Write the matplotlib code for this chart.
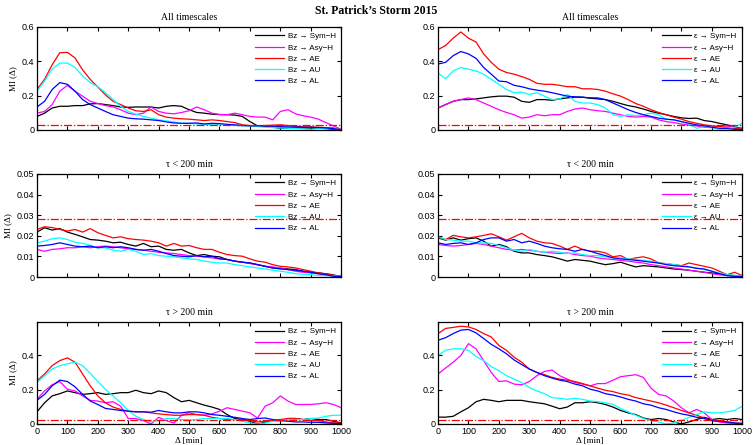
import matplotlib
matplotlib.use('Agg')
from matplotlib import pyplot as plt

# time lag axis, minutes
lag = list(range(0, 1001, 25))

indices = ['Sym\u2212H', 'Asy\u2212H', 'AE', 'AU', 'AL']
colors = ['#000000', '#ff00ff', '#ff0000', '#00ffff', '#0000ff']

# ---- Bz, all timescales
bz_all_symh = [0.079, 0.098, 0.128, 0.138, 0.138, 0.142, 0.142, 0.152, 0.154, 0.148, 0.142, 0.134, 0.132, 0.134,
               0.134, 0.134, 0.128, 0.138, 0.142, 0.138, 0.118, 0.102, 0.098, 0.092, 0.090, 0.089, 0.087, 0.079,
               0.049, 0.024, 0.020, 0.016, 0.010, 0.010, 0.012, 0.012, 0.010, 0.010, 0.008, 0.004, 0.0]
bz_all_asyh = [0.098, 0.108, 0.148, 0.226, 0.260, 0.226, 0.197, 0.167, 0.154, 0.142, 0.134, 0.118, 0.098, 0.089,
               0.098, 0.134, 0.108, 0.098, 0.094, 0.102, 0.112, 0.134, 0.118, 0.098, 0.090, 0.089, 0.098, 0.089,
               0.079, 0.075, 0.075, 0.059, 0.108, 0.118, 0.094, 0.083, 0.075, 0.063, 0.043, 0.024, 0.004]
bz_all_ae = [0.236, 0.295, 0.380, 0.450, 0.452, 0.420, 0.350, 0.295, 0.250, 0.205, 0.167, 0.148, 0.128, 0.112,
             0.108, 0.118, 0.089, 0.075, 0.069, 0.065, 0.063, 0.059, 0.055, 0.059, 0.055, 0.049, 0.043, 0.030,
             0.026, 0.024, 0.026, 0.028, 0.030, 0.026, 0.022, 0.018, 0.018, 0.016, 0.014, 0.012, 0.0]
bz_all_au = [0.226, 0.285, 0.354, 0.390, 0.390, 0.364, 0.315, 0.276, 0.252, 0.217, 0.177, 0.138, 0.108, 0.092,
             0.079, 0.069, 0.059, 0.053, 0.047, 0.039, 0.039, 0.035, 0.033, 0.031, 0.030, 0.028, 0.026, 0.024,
             0.024, 0.020, 0.016, 0.014, 0.012, 0.010, 0.008, 0.006, 0.004, 0.008, 0.010, 0.008, 0.0]
bz_all_al = [0.134, 0.167, 0.236, 0.276, 0.266, 0.226, 0.177, 0.148, 0.128, 0.108, 0.089, 0.079, 0.069, 0.065,
             0.063, 0.059, 0.055, 0.047, 0.041, 0.039, 0.039, 0.041, 0.035, 0.039, 0.037, 0.033, 0.030, 0.026,
             0.024, 0.024, 0.024, 0.022, 0.020, 0.018, 0.018, 0.016, 0.016, 0.014, 0.012, 0.008, 0.0]

# ---- epsilon, all timescales
ep_all_symh = [0.128, 0.148, 0.167, 0.177, 0.177, 0.181, 0.187, 0.193, 0.197, 0.197, 0.191, 0.167, 0.161, 0.177,
               0.177, 0.173, 0.181, 0.187, 0.191, 0.191, 0.185, 0.181, 0.177, 0.167, 0.154, 0.142, 0.134, 0.122,
               0.108, 0.098, 0.089, 0.079, 0.071, 0.067, 0.069, 0.055, 0.049, 0.039, 0.030, 0.020, 0.008]
ep_all_asyh = [0.128, 0.148, 0.167, 0.177, 0.187, 0.177, 0.157, 0.138, 0.118, 0.102, 0.089, 0.069, 0.075, 0.089,
               0.083, 0.089, 0.089, 0.108, 0.122, 0.128, 0.118, 0.112, 0.108, 0.098, 0.089, 0.079, 0.075, 0.079,
               0.075, 0.059, 0.049, 0.043, 0.035, 0.028, 0.024, 0.016, 0.014, 0.024, 0.024, 0.014, 0.010]
ep_all_ae = [0.468, 0.492, 0.535, 0.571, 0.535, 0.512, 0.443, 0.394, 0.354, 0.335, 0.325, 0.311, 0.295, 0.272,
             0.266, 0.266, 0.260, 0.252, 0.252, 0.240, 0.240, 0.236, 0.226, 0.211, 0.197, 0.177, 0.154, 0.138,
             0.118, 0.102, 0.089, 0.075, 0.063, 0.049, 0.039, 0.030, 0.024, 0.020, 0.016, 0.010, 0.004]
ep_all_au = [0.331, 0.299, 0.344, 0.364, 0.354, 0.344, 0.325, 0.295, 0.266, 0.236, 0.217, 0.220, 0.207, 0.217,
             0.197, 0.177, 0.181, 0.207, 0.167, 0.157, 0.157, 0.148, 0.128, 0.089, 0.079, 0.089, 0.083, 0.089,
             0.098, 0.089, 0.063, 0.059, 0.049, 0.035, 0.010, 0.020, 0.014, 0.004, 0.010, 0.016, 0.039]
ep_all_al = [0.384, 0.394, 0.433, 0.457, 0.443, 0.417, 0.364, 0.325, 0.285, 0.281, 0.260, 0.252, 0.240, 0.232,
             0.226, 0.217, 0.207, 0.197, 0.193, 0.191, 0.187, 0.187, 0.177, 0.157, 0.138, 0.118, 0.102, 0.089,
             0.079, 0.069, 0.063, 0.059, 0.049, 0.039, 0.030, 0.024, 0.016, 0.010, 0.008, 0.004, 0.002]

# ---- Bz, tau < 200 min
bz_short_symh = [0.0218, 0.0239, 0.0228, 0.0235, 0.0218, 0.0207, 0.0195, 0.0182, 0.0179, 0.0174, 0.0166, 0.0169,
                 0.0158, 0.0150, 0.0163, 0.0147, 0.0150, 0.0134, 0.0130, 0.0134, 0.0117, 0.0104, 0.0109, 0.0101,
                 0.0098, 0.0085, 0.0077, 0.0072, 0.0068, 0.0060, 0.0052, 0.0044, 0.0042, 0.0039, 0.0036, 0.0028,
                 0.0023, 0.0020, 0.0016, 0.0010, 0.0002]
bz_short_asyh = [0.0134, 0.0125, 0.0134, 0.0137, 0.0142, 0.0142, 0.0147, 0.0142, 0.0147, 0.0150, 0.0147, 0.0142,
                 0.0137, 0.0134, 0.0130, 0.0125, 0.0120, 0.0117, 0.0114, 0.0109, 0.0104, 0.0101, 0.0098, 0.0093,
                 0.0088, 0.0085, 0.0077, 0.0072, 0.0065, 0.0060, 0.0052, 0.0049, 0.0044, 0.0036, 0.0028, 0.0023,
                 0.0020, 0.0016, 0.0011, 0.0007, 0.0003]
bz_short_ae = [0.0231, 0.0244, 0.0240, 0.0231, 0.0223, 0.0231, 0.0218, 0.0235, 0.0215, 0.0202, 0.0190, 0.0195,
               0.0186, 0.0182, 0.0179, 0.0174, 0.0166, 0.0150, 0.0163, 0.0150, 0.0153, 0.0142, 0.0134, 0.0134,
               0.0120, 0.0109, 0.0104, 0.0101, 0.0088, 0.0077, 0.0072, 0.0060, 0.0052, 0.0049, 0.0044, 0.0036,
               0.0028, 0.0020, 0.0015, 0.0007, 0.0003]
bz_short_au = [0.0166, 0.0174, 0.0186, 0.0190, 0.0182, 0.0169, 0.0163, 0.0153, 0.0142, 0.0142, 0.0130, 0.0125,
               0.0134, 0.0125, 0.0109, 0.0114, 0.0104, 0.0101, 0.0098, 0.0093, 0.0088, 0.0085, 0.0077, 0.0072,
               0.0068, 0.0068, 0.0060, 0.0055, 0.0049, 0.0044, 0.0039, 0.0033, 0.0028, 0.0023, 0.0016, 0.0013,
               0.0011, 0.0008, 0.0007, 0.0005, 0.0003]
bz_short_al = [0.0150, 0.0153, 0.0158, 0.0166, 0.0158, 0.0150, 0.0147, 0.0150, 0.0142, 0.0147, 0.0142, 0.0147,
               0.0142, 0.0134, 0.0130, 0.0134, 0.0125, 0.0114, 0.0104, 0.0101, 0.0098, 0.0104, 0.0098, 0.0101,
               0.0088, 0.0085, 0.0077, 0.0072, 0.0068, 0.0060, 0.0052, 0.0044, 0.0039, 0.0036, 0.0033, 0.0028,
               0.0023, 0.0016, 0.0011, 0.0003, 0.0003]

# ---- epsilon, tau < 200 min
ep_short_symh = [0.0190, 0.0179, 0.0190, 0.0179, 0.0186, 0.0190, 0.0174, 0.0150, 0.0158, 0.0147, 0.0125, 0.0117,
                 0.0117, 0.0109, 0.0104, 0.0098, 0.0088, 0.0077, 0.0085, 0.0081, 0.0077, 0.0068, 0.0060, 0.0065,
                 0.0072, 0.0060, 0.0049, 0.0055, 0.0052, 0.0049, 0.0044, 0.0039, 0.0036, 0.0033, 0.0028, 0.0023,
                 0.0020, 0.0015, 0.0010, 0.0007, 0.0003]
ep_short_asyh = [0.0158, 0.0153, 0.0150, 0.0153, 0.0158, 0.0163, 0.0158, 0.0150, 0.0142, 0.0134, 0.0130, 0.0134,
                 0.0130, 0.0125, 0.0120, 0.0117, 0.0114, 0.0117, 0.0109, 0.0104, 0.0101, 0.0093, 0.0088, 0.0085,
                 0.0081, 0.0077, 0.0072, 0.0068, 0.0060, 0.0055, 0.0049, 0.0044, 0.0039, 0.0033, 0.0028, 0.0023,
                 0.0016, 0.0011, 0.0007, 0.0005, 0.0003]
ep_short_ae = [0.0195, 0.0182, 0.0202, 0.0195, 0.0190, 0.0195, 0.0202, 0.0210, 0.0195, 0.0179, 0.0195, 0.0212,
               0.0190, 0.0174, 0.0166, 0.0163, 0.0150, 0.0134, 0.0150, 0.0134, 0.0125, 0.0125, 0.0117, 0.0098,
               0.0104, 0.0085, 0.0093, 0.0098, 0.0088, 0.0068, 0.0065, 0.0060, 0.0055, 0.0068, 0.0060, 0.0052,
               0.0044, 0.0028, 0.0011, 0.0023, 0.0007]
ep_short_au = [0.0195, 0.0182, 0.0179, 0.0174, 0.0174, 0.0166, 0.0166, 0.0163, 0.0153, 0.0142, 0.0130, 0.0125,
               0.0134, 0.0125, 0.0120, 0.0125, 0.0120, 0.0114, 0.0117, 0.0109, 0.0104, 0.0104, 0.0098, 0.0093,
               0.0093, 0.0088, 0.0085, 0.0081, 0.0077, 0.0068, 0.0065, 0.0060, 0.0055, 0.0049, 0.0044, 0.0036,
               0.0028, 0.0020, 0.0011, 0.0008, 0.0007]
ep_short_al = [0.0166, 0.0158, 0.0163, 0.0166, 0.0158, 0.0166, 0.0182, 0.0190, 0.0190, 0.0174, 0.0182, 0.0166,
               0.0174, 0.0163, 0.0150, 0.0142, 0.0137, 0.0134, 0.0125, 0.0134, 0.0125, 0.0114, 0.0104, 0.0093,
               0.0088, 0.0085, 0.0081, 0.0077, 0.0072, 0.0068, 0.0060, 0.0055, 0.0052, 0.0049, 0.0042, 0.0039,
               0.0028, 0.0016, 0.0007, 0.0003, 0.0003]

# ---- Bz, tau > 200 min
bz_long_symh = [0.071, 0.124, 0.164, 0.177, 0.193, 0.183, 0.173, 0.177, 0.183, 0.173, 0.177, 0.183, 0.183, 0.197,
                0.183, 0.177, 0.193, 0.183, 0.154, 0.130, 0.138, 0.124, 0.110, 0.099, 0.085, 0.055, 0.032, 0.026,
                0.016, 0.0, 0.010, 0.020, 0.020, 0.032, 0.032, 0.026, 0.032, 0.026, 0.026, 0.016, 0.006]
bz_long_asyh = [0.144, 0.193, 0.229, 0.248, 0.203, 0.193, 0.164, 0.138, 0.134, 0.124, 0.130, 0.104, 0.032, 0.032,
                0.020, 0.0, 0.039, 0.020, 0.006, 0.051, 0.065, 0.055, 0.051, 0.059, 0.075, 0.095, 0.085, 0.075,
                0.065, 0.035, 0.104, 0.124, 0.164, 0.134, 0.114, 0.114, 0.114, 0.118, 0.124, 0.114, 0.095]
bz_long_ae = [0.252, 0.292, 0.341, 0.370, 0.386, 0.361, 0.292, 0.223, 0.164, 0.124, 0.099, 0.085, 0.075, 0.071,
              0.071, 0.065, 0.059, 0.055, 0.051, 0.051, 0.055, 0.055, 0.051, 0.039, 0.032, 0.026, 0.026, 0.026,
              0.020, 0.012, 0.016, 0.020, 0.026, 0.032, 0.032, 0.026, 0.020, 0.020, 0.012, 0.006, 0.006]
bz_long_au = [0.242, 0.282, 0.321, 0.341, 0.351, 0.361, 0.341, 0.296, 0.248, 0.203, 0.164, 0.124, 0.079, 0.045,
              0.026, 0.012, 0.020, 0.032, 0.032, 0.026, 0.024, 0.026, 0.032, 0.032, 0.032, 0.032, 0.026, 0.016,
              0.006, 0.0, 0.006, 0.016, 0.020, 0.026, 0.026, 0.026, 0.032, 0.035, 0.045, 0.051, 0.051]
bz_long_al = [0.138, 0.173, 0.223, 0.256, 0.248, 0.217, 0.173, 0.134, 0.114, 0.091, 0.085, 0.079, 0.075, 0.071,
              0.071, 0.069, 0.079, 0.071, 0.065, 0.065, 0.071, 0.071, 0.065, 0.055, 0.051, 0.045, 0.039, 0.032,
              0.026, 0.032, 0.035, 0.026, 0.020, 0.016, 0.012, 0.012, 0.010, 0.010, 0.006, 0.004, 0.002]

# ---- epsilon, tau > 200 min
ep_long_symh = [0.040, 0.040, 0.045, 0.071, 0.095, 0.130, 0.144, 0.138, 0.130, 0.138, 0.138, 0.138, 0.130, 0.124,
                0.118, 0.104, 0.089, 0.099, 0.124, 0.124, 0.130, 0.124, 0.114, 0.099, 0.079, 0.065, 0.055, 0.035,
                0.026, 0.032, 0.026, 0.012, 0.0, 0.012, 0.026, 0.039, 0.026, 0.032, 0.026, 0.032, 0.026]
ep_long_asyh = [0.292, 0.327, 0.361, 0.400, 0.469, 0.439, 0.370, 0.301, 0.248, 0.252, 0.233, 0.229, 0.248, 0.282,
                0.307, 0.315, 0.282, 0.262, 0.242, 0.233, 0.223, 0.236, 0.236, 0.256, 0.276, 0.282, 0.288, 0.272,
                0.209, 0.173, 0.164, 0.134, 0.095, 0.065, 0.085, 0.065, 0.026, 0.012, 0.006, 0.002, 0.0]
ep_long_ae = [0.528, 0.558, 0.564, 0.571, 0.567, 0.552, 0.528, 0.508, 0.459, 0.430, 0.390, 0.361, 0.321, 0.301,
              0.288, 0.272, 0.262, 0.256, 0.248, 0.236, 0.223, 0.209, 0.197, 0.189, 0.177, 0.169, 0.154, 0.144,
              0.134, 0.124, 0.110, 0.095, 0.079, 0.065, 0.051, 0.035, 0.020, 0.016, 0.012, 0.006, 0.002]
ep_long_au = [0.400, 0.430, 0.439, 0.439, 0.430, 0.394, 0.370, 0.335, 0.311, 0.282, 0.262, 0.242, 0.213, 0.193,
              0.177, 0.154, 0.150, 0.144, 0.150, 0.144, 0.134, 0.130, 0.124, 0.114, 0.091, 0.071, 0.051, 0.032,
              0.020, 0.012, 0.0, 0.006, 0.020, 0.039, 0.055, 0.071, 0.065, 0.065, 0.071, 0.079, 0.104]
ep_long_al = [0.489, 0.504, 0.528, 0.548, 0.552, 0.532, 0.499, 0.465, 0.439, 0.410, 0.374, 0.347, 0.321, 0.301,
              0.282, 0.268, 0.256, 0.248, 0.233, 0.223, 0.203, 0.193, 0.177, 0.169, 0.158, 0.144, 0.134, 0.118,
              0.110, 0.095, 0.085, 0.071, 0.059, 0.051, 0.039, 0.032, 0.020, 0.016, 0.012, 0.006, 0.004]

# significance levels (dash-dot lines)
threshold = [0.028, 0.028, 0.025]

panels = [
    ('All timescales', 'Bz', [bz_all_symh, bz_all_asyh, bz_all_ae, bz_all_au, bz_all_al]),
    ('All timescales', '\u03b5', [ep_all_symh, ep_all_asyh, ep_all_ae, ep_all_au, ep_all_al]),
    ('\u03c4 < 200 min', 'Bz', [bz_short_symh, bz_short_asyh, bz_short_ae, bz_short_au, bz_short_al]),
    ('\u03c4 < 200 min', '\u03b5', [ep_short_symh, ep_short_asyh, ep_short_ae, ep_short_au, ep_short_al]),
    ('\u03c4 > 200 min', 'Bz', [bz_long_symh, bz_long_asyh, bz_long_ae, bz_long_au, bz_long_al]),
    ('\u03c4 > 200 min', '\u03b5', [ep_long_symh, ep_long_asyh, ep_long_ae, ep_long_au, ep_long_al]),
]

sans = ['Liberation Sans', 'DejaVu Sans']
serif = ['Liberation Serif', 'DejaVu Serif']

fig = plt.figure(figsize=(7.53, 4.45), dpi=100)
fig.text(0.5, 0.976, 'St. Patrick\u2019s Storm 2015', ha='center', va='center',
         fontsize=8.5, fontweight='bold', family=serif)

lefts = [0.0491, 0.5817]
bottoms = [0.7079, 0.3775, 0.0472]
heights = [0.2315, 0.2315, 0.229]

for i, (title, driver, series) in enumerate(panels):
    row, col = i // 2, i % 2
    ax = fig.add_axes([lefts[col], bottoms[row], 0.404, heights[row]])
    for name, color, values in zip(indices, colors, series):
        ax.plot(lag, values, color=color, lw=0.9, label=driver + ' \u2192 ' + name)
    ax.axhline(threshold[row], color='#ff0000', ls='-.', lw=0.9)

    ax.set_xlim(0, 1000)
    ax.set_xticks(range(0, 1001, 100))
    if row == 1:
        ax.set_ylim(0, 0.05)
        ax.set_yticks([0, 0.01, 0.02, 0.03, 0.04, 0.05])
        ax.set_yticklabels(['0', '0.01', '0.02', '0.03', '0.04', '0.05'])
    else:
        ax.set_ylim(0, 0.6 if row == 0 else 0.595)
        ax.set_yticks([0, 0.2, 0.4, 0.6] if row == 0 else [0, 0.2, 0.4])
        ax.set_yticklabels(['0', '0.2', '0.4', '0.6'] if row == 0 else ['0', '0.2', '0.4'])
    if row < 2:
        ax.set_xticklabels([])
    else:
        ax.set_xlabel('\u0394 [min]', family=serif, fontsize=6.5, labelpad=1)

    ax.tick_params(direction='in', top=True, right=True, length=3, width=0.8,
                   labelsize=6.5, pad=2)
    for lbl in ax.get_xticklabels() + ax.get_yticklabels():
        lbl.set_family(sans)
    for sp in ax.spines.values():
        sp.set_linewidth(0.9)

    ax.set_title(title, family=serif, fontsize=7, pad=5)
    if col == 0:
        ax.set_ylabel('MI (\u0394)', family=serif, fontsize=6.5, labelpad=3)

    ax.legend(loc='upper right', frameon=False, prop={'family': sans, 'size': 5.8},
              handlelength=3.6, handletextpad=0.4, labelspacing=0.45,
              borderaxespad=0.3, borderpad=0.4)

plt.savefig('out.png', dpi=100)
